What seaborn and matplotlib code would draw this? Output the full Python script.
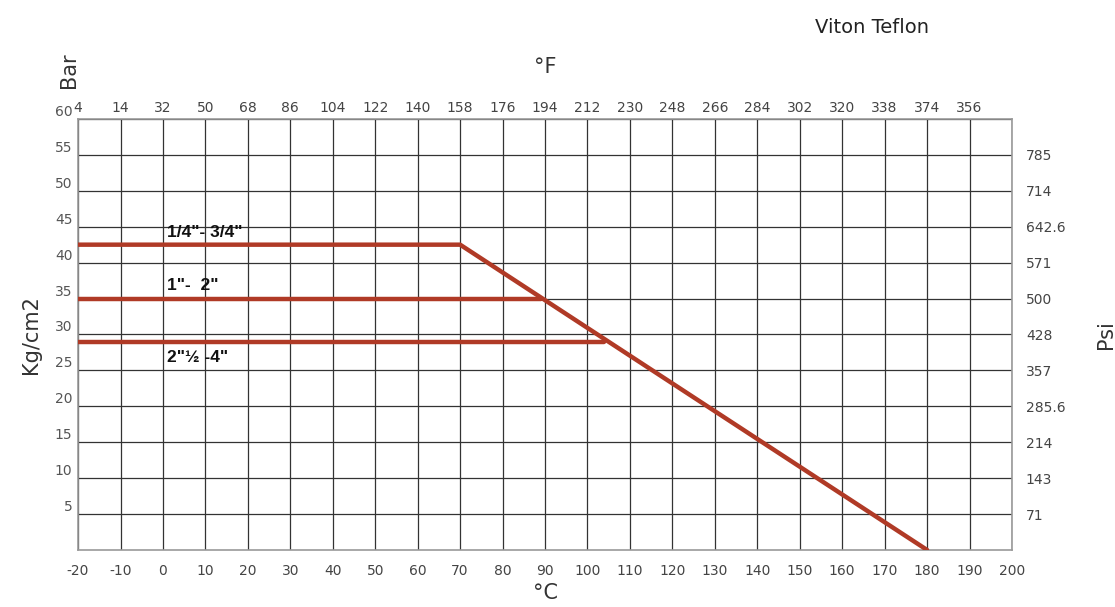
import numpy as np
import pandas as pd
import matplotlib
matplotlib.use("Agg")
import matplotlib.pyplot as plt
import seaborn as sns

# Datos
temp_c = [-20, -10, 0, 10, 20, 30, 40, 50, 60, 70, 80, 90, 100, 110, 120,
          130, 140, 150, 160, 170, 180, 190, 200]
temp_f = ["4", "14", "32", "50", "68", "86", "104", "122", "140", "158", "176",
          "194", "212", "230", "248", "266", "284", "302", "320", "338", "374", "356"]
bar_ticks = [5, 10, 15, 20, 25, 30, 35, 40, 45, 50, 55, 60]
psi_ticks = [5, 10, 15, 20, 25, 30, 35, 40, 45, 50, 55]
psi_labels = ["71", "143", "214", "285.6", "357", "428", "500", "571", "642.6", "714", "785"]

# Curvas presión-temperatura
curve_small_x = [-20, 70, 180]
curve_small_y = [42.5, 42.5, 0]
curve_mid_x = [-20, 89]
curve_mid_y = [35, 35]
curve_large_x = [-20, 104]
curve_large_y = [29, 29]
size_labels = ['1/4"- 3/4"', '1"-  2"', '2"½ -4"']
label_pos = [(1, 43.5), (1, 36.2), (1, 26.2)]

sns.set_theme(style="white")
plt.rcParams['font.family'] = ['DejaVu Sans']

red = "#b03a26"
fig = plt.figure(figsize=(11.15, 6.07), dpi=100)
ax = fig.add_axes([0.070, 0.094, 0.8376, 0.710])

curves = pd.DataFrame({
    "x": curve_small_x + curve_mid_x + curve_large_x,
    "y": curve_small_y + curve_mid_y + curve_large_y,
    "size": ["s"] * 3 + ["m"] * 2 + ["l"] * 2,
})
sns.lineplot(data=curves, x="x", y="y", units="size", estimator=None, sort=False,
             color=red, lw=3.2, ax=ax, zorder=3)

ax.set_xlim(-20, 200)
ax.set_ylim(0, 60)
ax.set_xticks(temp_c)
ax.set_xticklabels([str(t) for t in temp_c], fontsize=10, color="#444444")
ax.set_yticks(bar_ticks)
ax.set_yticklabels([str(t) for t in bar_ticks], fontsize=10, color="#555555")
ax.tick_params(axis="both", length=0, pad=10)
ax.tick_params(axis="y", pad=4)
for lab in ax.get_yticklabels():
    lab.set_verticalalignment("bottom")
ax.grid(True, color="#333333", lw=0.9)
for s in ax.spines.values():
    s.set_color("#999999")
    s.set_linewidth(1.2)
ax.set_xlabel("°C", fontsize=15, color="#333333", labelpad=4)
ax.set_ylabel("Kg/cm2", fontsize=15, color="#333333", labelpad=10)

# Eje superior en °F
ax_top = ax.twiny()
ax_top.set_xlim(ax.get_xlim())
ax_top.set_xticks(temp_c[:-1])
ax_top.set_xticklabels(temp_f, fontsize=10, color="#444444")
ax_top.tick_params(axis="x", length=0, pad=3)
ax_top.set_xlabel("°F", fontsize=15, color="#333333", labelpad=20)
for s in ax_top.spines.values():
    s.set_visible(False)

# Eje derecho en Psi
ax_right = ax.twinx()
ax_right.set_ylim(ax.get_ylim())
ax_right.set_yticks(psi_ticks)
ax_right.set_yticklabels(psi_labels, fontsize=10, color="#444444")
ax_right.tick_params(axis="y", length=0, pad=10)
ax_right.set_ylabel("Psi", fontsize=15, color="#333333", labelpad=22)
for s in ax_right.spines.values():
    s.set_visible(False)

for txt, (tx, ty) in zip(size_labels, label_pos):
    ax.text(tx, ty, txt, fontsize=12.5, fontweight="bold", color="#111111",
            family=["Liberation Sans", "DejaVu Sans"], zorder=4)

fig.text(0.062, 0.885, "Bar", rotation=90, fontsize=15, color="#333333",
         ha="center", va="center")
fig.text(0.782, 0.955, "Viton Teflon", fontsize=14, color="#222222",
         ha="center", va="center")

fig.savefig("out.png", dpi=100)
